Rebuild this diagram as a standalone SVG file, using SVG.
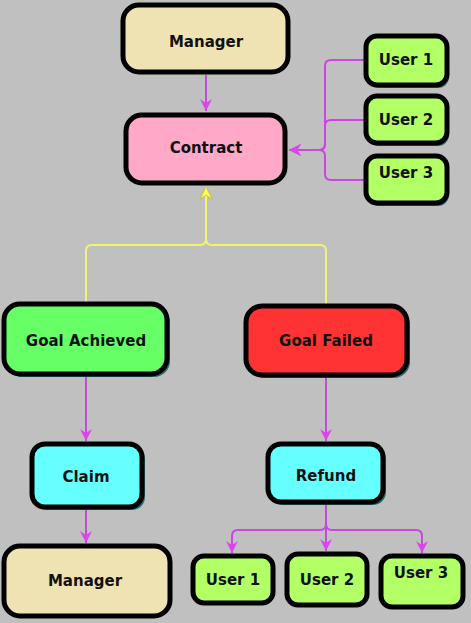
<svg xmlns="http://www.w3.org/2000/svg" width="471" height="623" viewBox="0 0 471 623">
<defs>
<style>
.box{stroke:#000;stroke-width:5}
.sh{fill:#2f6a70}
.t{font-family:"Comic Sans MS","DejaVu Sans",sans-serif;font-weight:bold;font-size:15px;fill:#111;text-anchor:middle;dominant-baseline:central}
.p{fill:none;stroke:#cc44e6;stroke-width:2}
.y{fill:none;stroke:#f4f46a;stroke-width:2}
</style>
<marker id="ap" markerUnits="userSpaceOnUse" markerWidth="14" markerHeight="14" refX="12" refY="6" orient="auto">
<path d="M0,0 L12,6 L0,12 L4,6 Z" fill="#dd44ee"/>
</marker>
<marker id="ay" markerUnits="userSpaceOnUse" markerWidth="14" markerHeight="14" refX="12" refY="6" orient="auto">
<path d="M0,0 L12,6 L0,12 L4,6 Z" fill="#ffff55" stroke="#b0b020" stroke-width="0.5"/>
</marker>
</defs>
<rect width="471" height="623" fill="#c0c0c0"/>
<g id="connectors">
<path class="p" d="M206,75 V111" marker-end="url(#ap)"/>
<path class="p" d="M365,60 H331 Q325,60 325,66 V144 Q325,150 319,150 H289" marker-end="url(#ap)"/>
<path class="p" d="M365,120 H331 Q325,120 325,126 V144 Q325,150 319,150 H289" marker-end="url(#ap)"/>
<path class="p" d="M365,180 H331 Q325,180 325,174 V156 Q325,150 319,150 H289" marker-end="url(#ap)"/>
<path class="y" d="M86,303 V251 Q86,245 92,245 H200 Q206,245 206,239 V187" marker-end="url(#ay)"/>
<path class="y" d="M326,305 V251 Q326,245 320,245 H212 Q206,245 206,239 V187" marker-end="url(#ay)"/>
<path class="p" d="M86,377 V441" marker-end="url(#ap)"/>
<path class="p" d="M86,510 V543" marker-end="url(#ap)"/>
<path class="p" d="M326,377 V441" marker-end="url(#ap)"/>
<path class="p" d="M326,504 V524 Q326,530 320,530 H238 Q232,530 232,536 V553" marker-end="url(#ap)"/>
<path class="p" d="M326,504 V551" marker-end="url(#ap)"/>
<path class="p" d="M326,504 V524 Q326,530 332,530 H416 Q422,530 422,536 V553" marker-end="url(#ap)"/>
</g>
<g id="manager-top">
<rect class="box" x="123" y="5" width="165" height="67" rx="16" fill="#efe2b3"/>
<text class="t" x="206" y="42">Manager</text>
</g>
<g id="contract">
<rect class="box" x="126" y="115" width="159" height="68" rx="16" fill="#ffa8c8"/>
<text class="t" x="206" y="148">Contract</text>
</g>
<g id="user1-top">
<rect class="sh" x="368" y="38" width="81" height="50" rx="11"/>
<rect class="box" x="366" y="36" width="81" height="49" rx="11" fill="#b2ff66"/>
<text class="t" x="406" y="60">User 1</text>
</g>
<g id="user2-top">
<rect class="sh" x="368" y="98" width="81" height="48" rx="11"/>
<rect class="box" x="366" y="96" width="81" height="47" rx="11" fill="#b2ff66"/>
<text class="t" x="406" y="120">User 2</text>
</g>
<g id="user3-top">
<rect class="sh" x="368" y="158" width="81" height="48" rx="11"/>
<rect class="box" x="366" y="156" width="81" height="47" rx="11" fill="#b2ff66"/>
<text class="t" x="406" y="173">User 3</text>
</g>
<g id="goal-achieved">
<rect class="sh" x="6" y="306" width="164" height="71" rx="16"/>
<rect class="box" x="4" y="304" width="163" height="70" rx="16" fill="#66ff66"/>
<text class="t" x="86" y="341">Goal Achieved</text>
</g>
<g id="goal-failed">
<rect class="sh" x="248" y="308" width="162" height="70" rx="16"/>
<rect class="box" x="246" y="306" width="161" height="69" rx="16" fill="#ff3333"/>
<text class="t" x="326" y="341">Goal Failed</text>
</g>
<g id="claim">
<rect class="sh" x="34" y="446" width="111" height="64" rx="13"/>
<rect class="box" x="32" y="444" width="110" height="63" rx="13" fill="#66ffff"/>
<text class="t" x="86" y="477">Claim</text>
</g>
<g id="manager-bottom">
<rect class="box" x="4" y="546" width="166" height="70" rx="16" fill="#efe2b3"/>
<text class="t" x="85" y="581">Manager</text>
</g>
<g id="refund">
<rect class="sh" x="270" y="446" width="116" height="59" rx="13"/>
<rect class="box" x="268" y="444" width="115" height="58" rx="13" fill="#66ffff"/>
<text class="t" x="326" y="476">Refund</text>
</g>
<g id="user1-bottom">
<rect class="sh" x="192" y="557" width="82" height="48" rx="11"/>
<rect class="box" x="193" y="556" width="80" height="47" rx="11" fill="#b2ff66"/>
<text class="t" x="233" y="580">User 1</text>
</g>
<g id="user2-bottom">
<rect class="box" x="287" y="554" width="80" height="51" rx="11" fill="#b2ff66"/>
<text class="t" x="327" y="580">User 2</text>
</g>
<g id="user3-bottom">
<rect class="sh" x="383" y="558" width="82" height="51" rx="11"/>
<rect class="box" x="381" y="556" width="82" height="51" rx="11" fill="#b2ff66"/>
<text class="t" x="421" y="573">User 3</text>
</g>
</svg>
